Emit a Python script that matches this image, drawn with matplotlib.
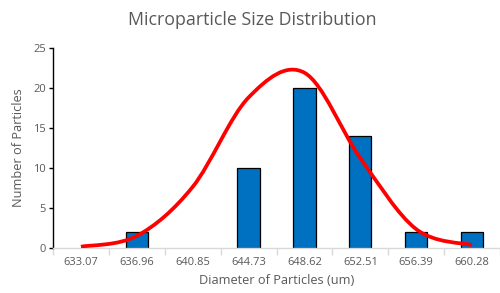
import numpy as np
import matplotlib
matplotlib.use("Agg")
import matplotlib.pyplot as plt
from matplotlib.path import Path
from matplotlib.patches import PathPatch

categories = ["633.07", "636.96", "640.85", "644.73", "648.62", "652.51", "656.39", "660.28"]
counts = [0, 2, 0, 10, 20, 14, 2, 2]
fit_values = [0.1, 1.45, 7.6, 18.8, 21.9, 11.2, 2.3, 0.3]

plt.rcParams['font.family'] = ['Open Sans', 'DejaVu Sans']
grey = '#595959'

fig = plt.figure(figsize=(5.0, 2.93), dpi=100)
ax = fig.add_axes([53/500, 1-247.5/293, 447/500, (247.5-48)/293])

x = np.arange(len(categories))
edges = ['black' if c > 0 else 'none' for c in counts]
ax.bar(x, counts, width=0.4, color='#0070C0', edgecolor=edges, linewidth=0.9, zorder=2)

# Smooth line (Excel-style Bezier smoothing through the points)
pts = np.column_stack([x, fit_values]).astype(float)
n = len(pts)
verts = [tuple(pts[0])]
codes = [Path.MOVETO]
for i in range(n - 1):
    p0 = pts[i - 1] if i > 0 else pts[i]
    p1 = pts[i]
    p2 = pts[i + 1]
    p3 = pts[i + 2] if i + 2 < n else pts[i + 1]
    c1 = p1 + (p2 - p0) / 6.0
    c2 = p2 - (p3 - p1) / 6.0
    verts += [tuple(c1), tuple(c2), tuple(p2)]
    codes += [Path.CURVE4] * 3
patch = PathPatch(Path(verts, codes), facecolor='none', edgecolor='#FF0000',
                  linewidth=2.7, capstyle='butt', zorder=3)
ax.add_patch(patch)

ax.set_xlim(-0.5, len(categories) - 0.5)
ax.set_ylim(0, 25)
ax.set_yticks([0, 5, 10, 15, 20, 25])
ax.set_xticks(x)
ax.set_xticklabels(categories)
ax.set_xticks(np.arange(-0.5, len(categories) + 0.5, 1), minor=True)

for s in ['top', 'right']:
    ax.spines[s].set_visible(False)
ax.spines['left'].set_color('black')
ax.spines['left'].set_linewidth(1.0)
ax.spines['bottom'].set_color('#D9D9D9')
ax.spines['bottom'].set_linewidth(1.0)

ax.tick_params(axis='y', colors='black', labelcolor=grey, labelsize=8, length=3, width=1, pad=2)
ax.tick_params(axis='x', which='major', length=0, labelcolor=grey, labelsize=8, pad=7)
ax.tick_params(axis='x', which='minor', length=5, width=1, color='#D9D9D9')

fig.text(252/500, 1-20/293, "Microparticle Size Distribution", fontsize=12.8,
         color=grey, ha='center', va='center')
ax.set_xlabel("Diameter of Particles (um)", fontsize=9.2, color=grey, labelpad=4)
ax.set_ylabel("Number of Particles", fontsize=9.2, color=grey, labelpad=6)

fig.savefig("out.png", dpi=100)
